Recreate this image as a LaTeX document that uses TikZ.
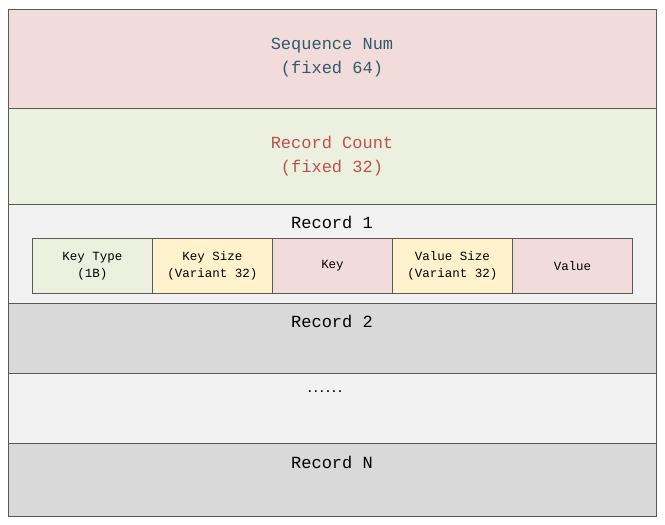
\documentclass[tikz,border=0pt]{standalone}
\usepackage{fontspec}
\setmonofont{Liberation Mono}
\newfontfamily\dotsfont{DejaVu Sans Mono}
\definecolor{pinkf}{HTML}{F2DCDB}
\definecolor{greenf}{HTML}{EBF1DE}
\definecolor{lgray}{HTML}{F2F2F2}
\definecolor{yellowf}{HTML}{FFF2CC}
\definecolor{dgray}{HTML}{D9D9D9}
\definecolor{edge}{HTML}{595959}
\definecolor{tealt}{HTML}{31596B}
\definecolor{redt}{HTML}{C0504D}
\begin{document}
\begin{tikzpicture}[x=1pt,y=-1pt,
  band/.style={draw=edge,line width=1pt},
  field/.style={draw=edge,line width=1pt,minimum width=120pt,minimum height=55pt,inner sep=0pt,anchor=north west,align=center,font=\ttfamily\fontsize{12.5}{16.5}\selectfont},
  big/.style={font=\ttfamily\fontsize{17}{24}\selectfont,align=center}]
\useasboundingbox (0,0) rectangle (665,525);
\fill[white] (0,0) rectangle (665,525);
\filldraw[band,fill=pinkf] (8,9) rectangle (656,108);
\filldraw[band,fill=greenf] (8,108) rectangle (656,204);
\filldraw[band,fill=lgray] (8,204) rectangle (656,303);
\filldraw[band,fill=dgray] (8,303) rectangle (656,373);
\filldraw[band,fill=lgray] (8,373) rectangle (656,443);
\filldraw[band,fill=dgray] (8,443) rectangle (656,516);
\node[big,text=tealt] (seq) at (332,58) {Sequence Num\\(fixed 64)};
\node[big,text=redt] (cnt) at (332,156) {Record Count\\(fixed 32)};
\node[big] (r1) at (332,222) {Record 1};
\node[big] (r2) at (332,321) {Record 2};
\node[font=\dotsfont\bfseries\fontsize{10}{12}\selectfont,inner sep=0pt,anchor=base] (dots) at (325,392) {......};
\node[big] (rn) at (332,462) {Record N};
\node[field,fill=greenf] (kt) at (32,238) {Key Type\\(1B)};
\node[field,fill=yellowf] (ks) at (152,238) {Key Size\\(Variant 32)};
\node[field,fill=pinkf] (k) at (272,238) {Key};
\node[field,fill=yellowf] (vs) at (392,238) {Value Size\\(Variant 32)};
\node[field,fill=pinkf] (v) at (512,238) {Value};
\end{tikzpicture}
\end{document}
